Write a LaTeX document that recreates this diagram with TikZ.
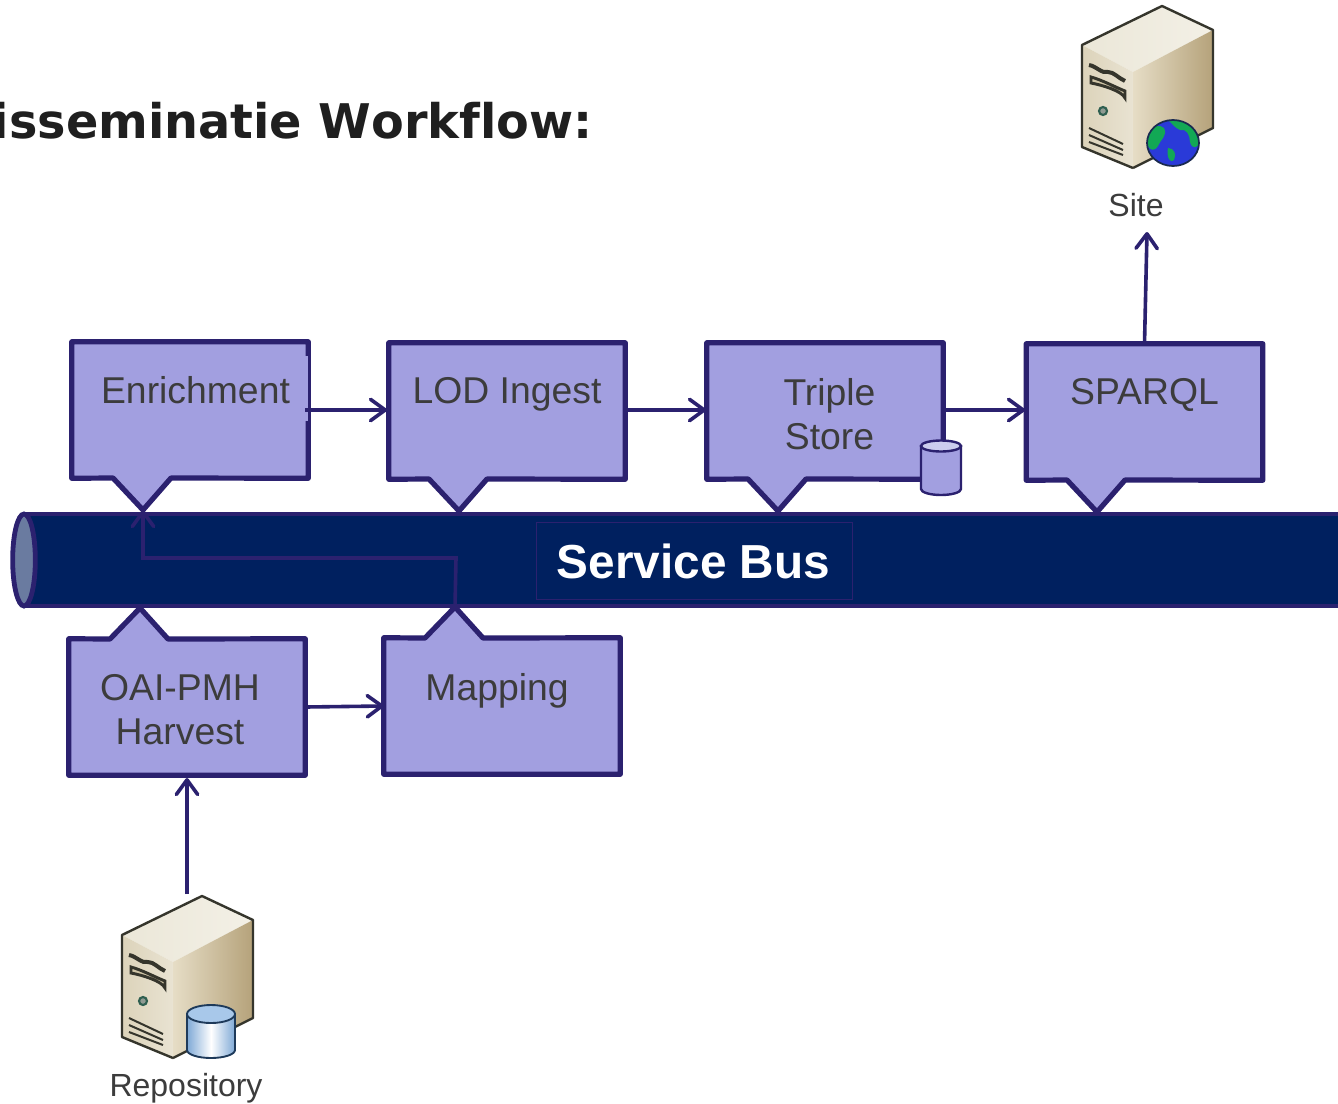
\documentclass[tikz,border=0pt]{standalone}
\usepackage{fontspec}
\setmainfont{Liberation Sans}
\newfontfamily\titlefont[Ligatures=NoCommon,Kerning=Off]{DejaVu Sans}
\usetikzlibrary{arrows.meta,shapes.geometric,calc}
\definecolor{lineblue}{HTML}{2B216F}
\definecolor{busblue}{HTML}{00205F}
\definecolor{boxfill}{HTML}{A29FE0}
\definecolor{txt}{HTML}{3C3C3C}
\definecolor{busend}{HTML}{6A7BA0}
\definecolor{minilid}{HTML}{CCCDEE}
\definecolor{servline}{HTML}{35352C}
\definecolor{topA}{HTML}{EBE7D8}
\definecolor{topB}{HTML}{F3F0E6}
\definecolor{frontA}{HTML}{DCD3BA}
\definecolor{frontB}{HTML}{E9E3D2}
\definecolor{sideA}{HTML}{E6DDC6}
\definecolor{sideB}{HTML}{B5A27A}
\definecolor{slotc}{HTML}{CFC4A6}
\definecolor{btnline}{HTML}{2F5F50}
\definecolor{btnfill}{HTML}{8F9A92}
\definecolor{globeblue}{HTML}{2A3AD8}
\definecolor{globegreen}{HTML}{12A855}
\definecolor{globeline}{HTML}{1A2A50}
\definecolor{cylblue}{HTML}{7FA9D6}
\definecolor{cyllid}{HTML}{A8C8EA}
\definecolor{cylline}{HTML}{1E3A5A}
\tikzset{
  x=0.75pt,y=-0.75pt,
  boxanchor/.style={inner sep=0pt,minimum width=177pt,minimum height=102pt},
  callout/.style={draw=lineblue,fill=boxfill,line width=3.9pt,line join=round},
  boxtext/.style={text=txt,font=\fontsize{28pt}{33pt}\selectfont,align=center,inner sep=0pt},
  captext/.style={text=txt,font=\fontsize{24pt}{28pt}\selectfont,inner sep=0pt},
  conn/.style={draw=lineblue,line width=2.7pt,-{Straight Barb[length=11pt,width=16pt,line width=2.7pt,round]}},
}
\newcommand{\serverbody}{%
  \shade[left color=topA,right color=topB] (1082,45) -- (1162,6) -- (1213,30) -- (1133,72) -- cycle;
  \shade[left color=frontA,right color=frontB] (1082,45) -- (1133,72) -- (1133,168) -- (1082,147) -- cycle;
  \shade[left color=sideA,right color=sideB] (1133,72) -- (1213,30) -- (1213,128) -- (1133,168) -- cycle;
  \draw[line width=1.8pt,draw=servline,line join=round] (1133,168) -- (1082,147) -- (1082,45) -- (1162,6) -- (1213,30) -- (1213,128) -- (1133,168);
  \draw[line width=3pt,servline] (1089,65) .. controls (1096,66) and (1102,74) .. (1108,72) .. controls (1114,72) and (1118,78) .. (1125,81);
  \draw[line width=2.2pt,servline,fill=slotc] (1091,77) .. controls (1102,80) and (1115,87) .. (1125,91) -- (1125,98) .. controls (1122,91) and (1102,85) .. (1091,83) -- cycle;
  \draw[line width=1.6pt,draw=btnline,fill=btnfill] (1103,111) circle[radius=4];
  \draw[line width=1.5pt,servline] (1089,128) -- (1123,144) (1089,135) -- (1123,150) (1089,142) -- (1123,155);
}
\begin{document}
\begin{tikzpicture}
\useasboundingbox (0,0) rectangle (1338,1103);
\fill[white] (0,0) rectangle (1338,1103);

\node[anchor=east,inner sep=0pt,font=\titlefont\bfseries\fontsize{35.8pt}{40pt}\selectfont,text=black!88] (title) at (593,121) {isseminatie Workflow:};

% anchors of the boxes
\node[boxanchor] (enr) at (190,410) {};
\node[boxanchor] (lod) at (507,411) {};
\node[boxanchor] (tri) at (825,411) {};
\node[boxanchor] (spq) at (1144.5,412) {};
\node[boxanchor] (oai) at (187,707) {};
\node[boxanchor] (map) at (502,706) {};

% bus
\fill[busblue,draw=lineblue,line width=3.6pt] (24,514) -- (1345,514) -- (1345,606) -- (24,606) -- cycle;
\node[ellipse,draw=lineblue,fill=busend,line width=3.6pt,minimum width=17pt,minimum height=69pt,inner sep=0pt] (busleft) at (24,560) {};
\node[draw=lineblue,line width=0.8pt,minimum width=237pt,minimum height=58pt,inner sep=0pt] (bus) at (694.5,561) {};
\node[inner sep=0pt,text=white,font=\bfseries\fontsize{35.8pt}{40pt}\selectfont] (bust) at (693.5,561.5) {Service Bus};

% callout outlines
\draw[callout] (enr.north west) -- (enr.north east) -- (enr.south east) -- (171,478) -- (143,510) coordinate (enrtip) -- (113,478) -- (enr.south west) -- cycle;
\fill[boxfill] (304.5,356) rectangle (307.5,421);
\draw[callout] (lod.north west) -- (lod.north east) -- (lod.south east) -- (487,479) -- (459,511) -- (429,479) -- (lod.south west) -- cycle;
\draw[callout] (tri.north west) -- (tri.north east) -- (tri.south east) -- (806,479) -- (778,511) -- (748,479) -- (tri.south west) -- cycle;
\draw[callout] (spq.north west) -- (spq.north east) -- (spq.south east) -- (1125,480) -- (1097,512) -- (1067,480) -- (spq.south west) -- cycle;
\draw[callout] (oai.north west) -- (110,639) -- (140,608) -- (168,639) -- (oai.north east) -- (oai.south east) -- (oai.south west) -- cycle;
\draw[callout] (map.north west) -- (425,638) -- (455,607) coordinate (maptip) -- (483,638) -- (map.north east) -- (map.south east) -- (map.south west) -- cycle;

% box texts
\node[boxtext] (enrt) at (195.5,390) {Enrichment};
\node[boxtext] (lodt) at (507,394) {LOD Ingest};
\node[boxtext] (trit) at (829.5,414) {Triple\\Store};
\node[boxtext] (spqt) at (1144.5,395) {SPARQL};
\node[boxtext] (oait) at (180,710) {OAI-PMH\\Harvest};
\node[boxtext] (mapt) at (497,691) {Mapping};

% small store cylinder
\draw[draw=lineblue,fill=boxfill,line width=1.8pt] (921,446) -- (921,489) arc[start angle=180,end angle=0,x radius=20,y radius=6] -- (961,446) -- cycle;
\draw[draw=lineblue,fill=minilid,line width=1.8pt] (941,446) ellipse[x radius=20,y radius=5.5];

% connectors
\coordinate (enrout) at (305,410);
\coordinate (lodin) at (387,410);
\coordinate (lodout) at (627,410);
\coordinate (triin) at (706,410);
\coordinate (triout) at (945,410);
\coordinate (spqin) at (1025,410);
\draw[conn] (enrout) -- (lodin);
\draw[conn] (lodout) -- (triin);
\draw[conn] (triout) -- (spqin);
\draw[conn] (oai.east) -- (map.west);
\coordinate (sitein) at (1147,232);
\draw[conn] (spq.north) -- (sitein);
\coordinate (repoout) at (187,894);
\coordinate (oaiin) at (187,778);
\draw[conn] (repoout) -- (oaiin);
\draw[conn] (maptip) -- (456,558) -| (enrtip);

% Site server
\begin{scope}
\serverbody
\fill[globeblue] (1173,143) ellipse[x radius=26,y radius=23];
\begin{scope}
\clip (1173,143) ellipse[x radius=26,y radius=23];
\fill[globegreen] (1165,118) .. controls (1172,122) and (1174,128) .. (1180,130) .. controls (1186,128) and (1190,135) .. (1190,142) .. controls (1192,150) and (1198,148) .. (1200,142) -- (1200,120) -- cycle;
\fill[globegreen] (1148,135) .. controls (1152,125) and (1160,124) .. (1164,128) .. controls (1168,136) and (1160,140) .. (1158,146) .. controls (1154,152) and (1150,150) .. (1148,146) -- cycle;
\fill[globegreen] (1168,148) .. controls (1174,148) and (1177,154) .. (1174,160) .. controls (1171,164) and (1166,158) .. (1168,148) -- cycle;
\end{scope}
\draw[line width=1.3pt,draw=globeline] (1173,143) ellipse[x radius=26,y radius=23];
\end{scope}
\node[captext] (site) at (1136,205) {Site};

% Repository server
\begin{scope}[shift={(-960,890)}]
\serverbody
\end{scope}
\shade[left color=cylblue,right color=cylblue,middle color=white,draw=cylline,line width=1.4pt] (187,1014) -- (187,1050) arc[start angle=180,end angle=0,x radius=24,y radius=8] -- (235,1014) -- cycle;
\draw[fill=cyllid,draw=cylline,line width=1.4pt] (211,1014) ellipse[x radius=24,y radius=9];
\node[captext] (repo) at (186,1088) {Repository};
\end{tikzpicture}
\end{document}
